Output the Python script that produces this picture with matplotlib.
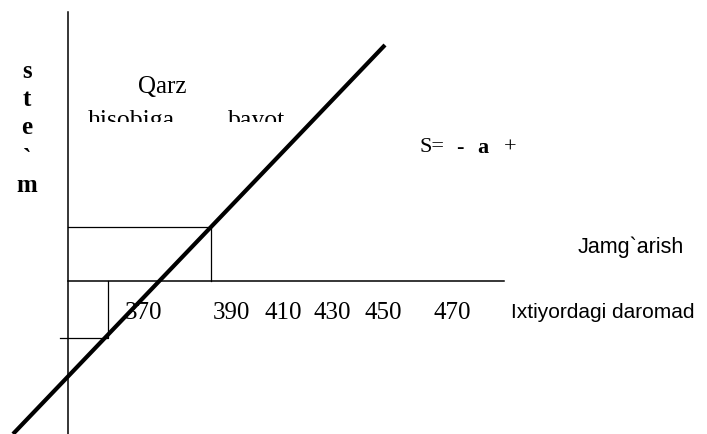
"""Savings function diagram (jamg`arish vs ixtiyordagi daromad).

Coordinates are diagram units with the origin where the two axes meet.
"""
import matplotlib
matplotlib.use('Agg')
import matplotlib.pyplot as plt
from matplotlib.patches import Rectangle

SERIF = ['Liberation Serif', 'DejaVu Serif']
SANS = ['Liberation Sans', 'DejaVu Sans']

# savings line S = -a + s*Y, given by its two end points
line_x = [-55, 317]
line_y = [-153, 236]

# axes
x_axis_x = [0, 436]
y_axis_y = [-153, 269]

# break-even box (upper) and dissaving box (lower)
upper_box_x = [0, 141, 143, 143]
upper_box_y = [54, 54, 54, 0]
lower_box_x = [-8, 40, 40]
lower_box_y = [-57, -57, 0]

# tick labels on the income axis
tick_labels = ['370', '390', '410', '430', '450', '470']
tick_pos = [76, 163, 215, 264, 315, 384]

# vertical label letters on the left
side_letters = ['s', 't', 'e', '`', 'm']
side_letter_y = [209, 181, 153, 121, 96]

# pieces of the (partly lost) formula "S= - a +"
formula_parts = ['S=', '-', 'a', '+']
formula_x = [364, 392, 415, 442]
formula_weight = ['normal', 'bold', 'bold', 'normal']


def main():
    fig = plt.figure(figsize=(7.07, 4.34), dpi=100)
    ax = fig.add_axes([0, 0, 1, 1])
    ax.set_xlim(-68, 639)
    ax.set_ylim(-153, 281)
    ax.axis('off')

    # axes
    ax.plot(x_axis_x, [0, 0], color='black', lw=1.1)
    ax.plot([0, 0], y_axis_y, color='black', lw=1.1)

    # guide boxes
    ax.plot(upper_box_x[:2], upper_box_y[:2], color='black', lw=0.9)
    ax.plot(upper_box_x[2:], upper_box_y[2:], color='black', lw=0.9)
    ax.plot(lower_box_x, lower_box_y, color='black', lw=0.9)

    # savings line
    ax.plot(line_x, line_y, color='black', lw=3.0, solid_capstyle='butt')

    for lab, xp in zip(tick_labels, tick_pos):
        ax.text(xp, -32, lab, ha='center', va='center', fontsize=18,
                family=SERIF)

    ax.text(443, -32, 'Ixtiyordagi daromad', ha='left', va='center',
            fontsize=15, family=SANS)
    ax.text(510, 34, 'Jamg`arish', ha='left', va='center',
            fontsize=15.5, family=SANS)

    for part, xp, w in zip(formula_parts, formula_x, formula_weight):
        ax.text(xp, 133, part, ha='center', va='center', fontsize=16,
                family=SERIF, fontweight=w)

    ax.text(70, 194, 'Qarz', ha='left', va='center', fontsize=18,
            family=SERIF)

    # second line of the label is cut off along the bottom
    clip = Rectangle((-68, 159), 700, 60, transform=ax.transData)
    for word, xp in [('hisobiga', 20), ('bayot', 160)]:
        t = ax.text(xp, 154, word, ha='left', va='baseline', fontsize=18.5,
                    family=SERIF, clip_on=True)
        t.set_clip_path(clip)

    for ch, yp in zip(side_letters, side_letter_y):
        ax.text(-41, yp, ch, ha='center', va='center', fontsize=18,
                family=SERIF, fontweight='bold')

    fig.savefig('out.png', dpi=100)
    plt.close(fig)


if __name__ == '__main__':
    main()
